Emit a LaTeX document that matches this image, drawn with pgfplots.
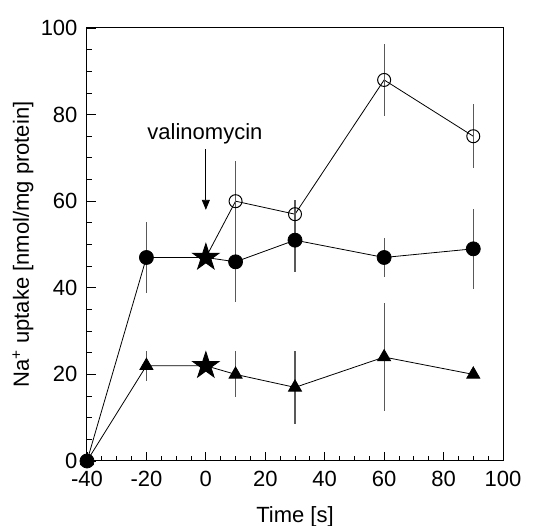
\documentclass[border=0pt]{standalone}
\usepackage{fontspec}
\setmainfont{Liberation Sans}
\usepackage{pgfplots}
\pgfplotsset{compat=1.18}
\usetikzlibrary{arrows.meta}

% filled five-point star
\pgfdeclareplotmark{fstar}{%
  \pgfpathmoveto{\pgfpointpolar{90}{\pgfplotmarksize}}%
  \pgfpathlineto{\pgfpointpolar{126}{0.382\pgfplotmarksize}}%
  \pgfpathlineto{\pgfpointpolar{162}{\pgfplotmarksize}}%
  \pgfpathlineto{\pgfpointpolar{198}{0.382\pgfplotmarksize}}%
  \pgfpathlineto{\pgfpointpolar{234}{\pgfplotmarksize}}%
  \pgfpathlineto{\pgfpointpolar{270}{0.382\pgfplotmarksize}}%
  \pgfpathlineto{\pgfpointpolar{306}{\pgfplotmarksize}}%
  \pgfpathlineto{\pgfpointpolar{342}{0.382\pgfplotmarksize}}%
  \pgfpathlineto{\pgfpointpolar{18}{\pgfplotmarksize}}%
  \pgfpathlineto{\pgfpointpolar{54}{0.382\pgfplotmarksize}}%
  \pgfpathclose
  \pgfusepathqfillstroke
}

\begin{document}
\begin{tikzpicture}
\begin{axis}[
  scale only axis,
  width=416pt, height=433pt,
  xmin=-40, xmax=100, ymin=0, ymax=100,
  xtick={-40,-20,...,100}, ytick={0,20,...,100},
  minor x tick num=3, minor y tick num=3,
  tick align=inside, xtick pos=bottom, ytick pos=left,
  major tick length=9pt, minor tick length=5pt,
  tick style={black, line width=0.8pt},
  axis line style={line width=1pt},
  /pgf/number format/assume math mode=true,
  ticklabel style={font=\fontsize{22}{26}\selectfont},
  xticklabel style={yshift=-7pt},
  yticklabel style={xshift=-6pt},
  label style={font=\fontsize{22}{26}\selectfont},
  xlabel={Time [s]},
  ylabel={Na\textsuperscript{+} uptake [nmol/mg protein]},
  xlabel style={at={(axis description cs:0.5,-0.129)}, anchor=center},
  ylabel style={at={(axis description cs:-0.154,0.5)}, anchor=center},
  clip=false,
  every axis plot/.append style={black, line width=0.8pt},
  errstyle/.style={error bars/.cd, y dir=both, y explicit, error mark=none,
    error bar style={draw=black!65, line width=1.2pt}},
]
% triangles
\addplot[mark=triangle*, mark size=7.5pt, mark indices={1,2,4,5,6,7},
  errstyle] coordinates {
  (-40,0) +- (0,0)
  (-20,22) +- (0,3.5)
  (0,22) +- (0,0)
  (10,20) +- (0,5.3)
  (30,17) +- (0,8.5)
  (60,24) +- (0,12.5)
  (90,20) +- (0,0)
};
% filled circles
\addplot[mark=*, mark size=7pt, mark indices={1,2,4,5,6,7},
  errstyle] coordinates {
  (-40,0) +- (0,0)
  (-20,47) +- (0,8.3)
  (0,47) +- (0,0)
  (10,46) +- (0,9.3)
  (30,51) +- (0,7.4)
  (60,47) +- (0,4.4)
  (90,49) +- (0,9.3)
};
% open circles
\addplot[mark=o, mark size=6.5pt, mark options={line width=1pt}, mark indices={2,3,4,5},
  errstyle] coordinates {
  (0,47) +- (0,0)
  (10,60) +- (0,9.3)
  (30,57) +- (0,3.3)
  (60,88) +- (0,8.4)
  (90,75) +- (0,7.4)
};
% stars
\addplot[only marks, mark=fstar, mark size=14pt] coordinates {
  (0,47) (0,22)
};
\node[font=\fontsize{22}{26}\selectfont] at (axis cs:-0.3,75.6) {valinomycin};
\draw[-{Triangle[length=10pt,width=8pt]}, line width=0.8pt] (axis cs:0,72) -- (axis cs:0,58);
\end{axis}
\pgfresetboundingbox
\path (-87pt,-65pt) rectangle (457pt,461pt);
\end{tikzpicture}
\end{document}
